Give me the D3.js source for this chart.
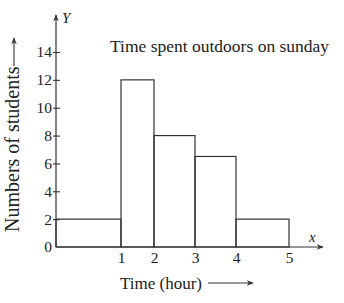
<!DOCTYPE html>
<html>
<head>
<meta charset="utf-8">
<script src="https://cdn.jsdelivr.net/npm/d3@7"></script>
<style>
  body { margin: 0; background: #fff; }
  text { font-family: "Liberation Serif", "Times New Roman", serif; fill: #222; }
</style>
</head>
<body>
<div id="chart"></div>
<script>
// histogram bins (hours) and number of students
const binStart = [0, 1, 2, 3, 4];
const binEnd = [1, 2, 3, 4, 5];
const students = [2, 12, 8, 6.5, 2];
const xTicks = [1, 2, 3, 4, 5];
const yTicks = [0, 2, 4, 6, 8, 10, 12, 14];
const title = 'Time spent outdoors on sunday';
const xLabel = 'Time (hour)';
const yLabel = 'Numbers of students';

const width = 344;
const height = 303;
const ink = '#333';

const svg = d3.select('#chart')
  .append('svg')
  .attr('width', width)
  .attr('height', height);

// the printed figure is hand drawn, so the hour axis is not evenly spaced
const x = d3.scaleLinear()
  .domain([0, 1, 2, 3, 4, 5])
  .range([56, 121, 154, 195, 236, 289]);
const y = d3.scaleLinear().domain([0, 14]).range([247, 52]);

const defs = svg.append('defs');
defs.append('marker')
  .attr('id', 'head')
  .attr('viewBox', '0 0 10 10')
  .attr('refX', 9)
  .attr('refY', 5)
  .attr('markerWidth', 7)
  .attr('markerHeight', 7)
  .attr('markerUnits', 'userSpaceOnUse')
  .attr('orient', 'auto')
  .append('path')
  .attr('d', 'M0,1 L10,5 L0,9 L3,5 Z')
  .attr('fill', ink);

// bars
const bins = binStart.map((s, i) => ({ s: s, e: binEnd[i], v: students[i] }));
svg.append('g')
  .selectAll('rect')
  .data(bins)
  .join('rect')
  .attr('x', d => x(d.s))
  .attr('y', d => y(d.v))
  .attr('width', d => x(d.e) - x(d.s))
  .attr('height', d => y(0) - y(d.v))
  .attr('fill', 'none')
  .attr('stroke', ink)
  .attr('stroke-width', 1.2);

// x axis line with arrow
svg.append('line')
  .attr('x1', x(0)).attr('y1', y(0))
  .attr('x2', 323).attr('y2', y(0))
  .attr('stroke', ink)
  .attr('stroke-width', 1.2)
  .attr('marker-end', 'url(#head)');

// y axis line with arrow
svg.append('line')
  .attr('x1', x(0)).attr('y1', y(0))
  .attr('x2', x(0)).attr('y2', 15)
  .attr('stroke', ink)
  .attr('stroke-width', 1.2)
  .attr('marker-end', 'url(#head)');

const yAxis = d3.axisLeft(y)
  .tickValues(yTicks)
  .tickSize(3)
  .tickPadding(2)
  .tickFormat(d3.format('d'));
const yg = svg.append('g')
  .attr('transform', 'translate(' + x(0) + ',0)')
  .call(yAxis)
  .attr('font-size', null)
  .attr('font-family', null);
yg.select('.domain').remove();
yg.selectAll('.tick line')
  .attr('x2', 4)
  .attr('x1', -3)
  .attr('stroke', ink)
  .attr('stroke-width', 1.1);
yg.selectAll('.tick text')
  .attr('x', -4)
  .style('font-size', '15.5px')
  .attr('fill', '#222');
yg.selectAll('.tick').filter(d => d === 0).select('line').remove();

const xAxis = d3.axisBottom(x)
  .tickValues(xTicks)
  .tickSize(0)
  .tickPadding(5)
  .tickFormat(d3.format('d'));
const xg = svg.append('g')
  .attr('transform', 'translate(0,' + y(0) + ')')
  .call(xAxis)
  .attr('font-size', null)
  .attr('font-family', null);
xg.select('.domain').remove();
xg.selectAll('.tick text')
  .style('font-size', '15.5px')
  .attr('fill', '#222');

// axis letters
svg.append('text')
  .attr('x', 62).attr('y', 23)
  .style('font-size', '15px')
  .style('font-style', 'italic')
  .text('Y');
svg.append('text')
  .attr('x', 309).attr('y', 242)
  .style('font-size', '15px')
  .style('font-style', 'italic')
  .text('x');

// title
svg.append('text')
  .attr('x', 110).attr('y', 52)
  .style('font-size', '17.5px')
  .text(title);

// x label with arrow
svg.append('text')
  .attr('x', 120).attr('y', 289)
  .style('font-size', '17px')
  .text(xLabel);
svg.append('line')
  .attr('x1', 208).attr('y1', 283)
  .attr('x2', 253).attr('y2', 283)
  .attr('stroke', ink)
  .attr('stroke-width', 1.1)
  .attr('marker-end', 'url(#head)');

// y label with arrow
svg.append('text')
  .attr('transform', 'translate(19,232) rotate(-90)')
  .style('font-size', '20px')
  .text(yLabel);
svg.append('line')
  .attr('x1', 14).attr('y1', 66)
  .attr('x2', 14).attr('y2', 38)
  .attr('stroke', ink)
  .attr('stroke-width', 1.1)
  .attr('marker-end', 'url(#head)');
</script>
</body>
</html>
